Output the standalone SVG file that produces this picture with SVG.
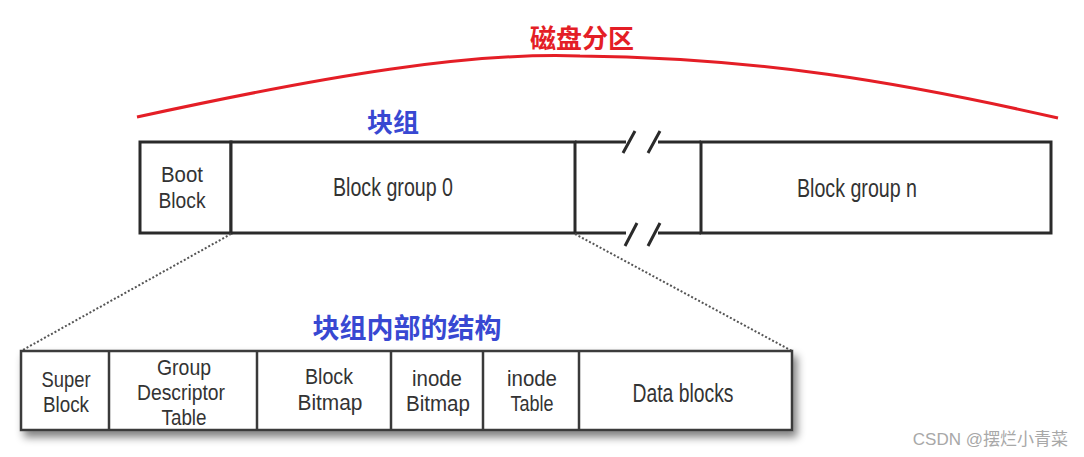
<svg xmlns="http://www.w3.org/2000/svg" width="1084" height="457" viewBox="0 0 1084 457">
<style>
.box{fill:#fff;stroke:#2a2a2a;stroke-width:3}
.ln{stroke:#2a2a2a;stroke-width:3;fill:none}
.ln2{stroke:#3a3a3a;stroke-width:2.5;fill:none}
.t{font-family:"Liberation Sans",Arial,sans-serif;font-size:26px;fill:#333}
.s{font-size:22px}
.cn{font-family:"Noto Sans CJK SC",sans-serif;font-weight:bold}
.dot{stroke:#555;stroke-width:2;stroke-dasharray:2 2;fill:none}
</style>
<defs>
<filter id="sh" x="-5%" y="-20%" width="115%" height="150%">
<feGaussianBlur in="SourceAlpha" stdDeviation="4"/>
<feOffset dx="4" dy="6" result="b"/>
<feComponentTransfer><feFuncA type="linear" slope="0.5"/></feComponentTransfer>
<feMerge><feMergeNode/><feMergeNode in="SourceGraphic"/></feMerge>
</filter>
</defs>
<rect width="1084" height="457" fill="#fff"/>
<g id="partition">
<path d="M137,117 C330,75 470,52 580,56 C760,58 900,82 1058,118" fill="none" stroke="#e41e26" stroke-width="3"/>
<text x="582" y="48" text-anchor="middle" class="cn" font-size="26" fill="#e41e26">磁盘分区</text>
</g>
<text x="393" y="132" text-anchor="middle" class="cn" font-size="26" fill="#3848d2">块组</text>
<g id="boot-block">
<rect x="140" y="142" width="91" height="91" class="box"/>
<text x="182" y="182" class="t s" text-anchor="middle" textLength="42" lengthAdjust="spacingAndGlyphs">Boot</text>
<text x="182" y="208" class="t s" text-anchor="middle" textLength="47" lengthAdjust="spacingAndGlyphs">Block</text>
</g>
<g id="block-group-0">
<rect x="231" y="142" width="344" height="91" class="box"/>
<text x="393" y="196" class="t" text-anchor="middle" textLength="120" lengthAdjust="spacingAndGlyphs">Block group 0</text>
</g>
<g id="gap">
<path d="M575,142 H626 M658,142 H701 M575,233 H626 M658,233 H701" class="ln"/>
<path d="M623,153 L635,131 M648,153 L660,131 M625,246 L637,223 M648,246 L660,223" class="ln"/>
</g>
<g id="block-group-n">
<rect x="701" y="142" width="350" height="91" class="box"/>
<text x="857" y="197" class="t" text-anchor="middle" textLength="120" lengthAdjust="spacingAndGlyphs">Block group n</text>
</g>
<g id="connectors">
<path d="M231,234 L21,351" class="dot"/>
<path d="M575,234 L792,351" class="dot"/>
</g>
<text x="407" y="338" text-anchor="middle" class="cn" font-size="27" fill="#3848d2">块组内部的结构</text>
<g id="inner" filter="url(#sh)">
<rect x="21" y="351" width="771" height="79" fill="#fff" stroke="#3a3a3a" stroke-width="2.5"/>
</g>
<g id="super-block">
<path d="M109,351 V430" class="ln2"/>
<text x="66" y="387" class="t s" text-anchor="middle" textLength="49" lengthAdjust="spacingAndGlyphs">Super</text>
<text x="66" y="412" class="t s" text-anchor="middle" textLength="46" lengthAdjust="spacingAndGlyphs">Block</text>
</g>
<g id="group-descriptor-table">
<path d="M257,351 V430" class="ln2"/>
<text x="184" y="375" class="t s" text-anchor="middle" textLength="54" lengthAdjust="spacingAndGlyphs">Group</text>
<text x="181" y="400" class="t s" text-anchor="middle" textLength="88" lengthAdjust="spacingAndGlyphs">Descriptor</text>
<text x="184" y="425" class="t s" text-anchor="middle" textLength="45" lengthAdjust="spacingAndGlyphs">Table</text>
</g>
<g id="block-bitmap">
<path d="M391,351 V430" class="ln2"/>
<text x="329" y="384" class="t s" text-anchor="middle" textLength="48" lengthAdjust="spacingAndGlyphs">Block</text>
<text x="330" y="410" class="t s" text-anchor="middle" textLength="65" lengthAdjust="spacingAndGlyphs">Bitmap</text>
</g>
<g id="inode-bitmap">
<path d="M483,351 V430" class="ln2"/>
<text x="437" y="386" class="t s" text-anchor="middle" textLength="50" lengthAdjust="spacingAndGlyphs">inode</text>
<text x="438" y="411" class="t s" text-anchor="middle" textLength="64" lengthAdjust="spacingAndGlyphs">Bitmap</text>
</g>
<g id="inode-table">
<path d="M579,351 V430" class="ln2"/>
<text x="532" y="386" class="t s" text-anchor="middle" textLength="50" lengthAdjust="spacingAndGlyphs">inode</text>
<text x="532" y="411" class="t s" text-anchor="middle" textLength="43" lengthAdjust="spacingAndGlyphs">Table</text>
</g>
<g id="data-blocks">
<text x="683" y="402" class="t" text-anchor="middle" textLength="101" lengthAdjust="spacingAndGlyphs">Data blocks</text>
</g>
<text x="1068" y="445" text-anchor="end" font-family="Liberation Sans,'Noto Sans CJK SC',sans-serif" font-size="17" fill="#a8a8a8">CSDN @摆烂小青菜</text>
</svg>
